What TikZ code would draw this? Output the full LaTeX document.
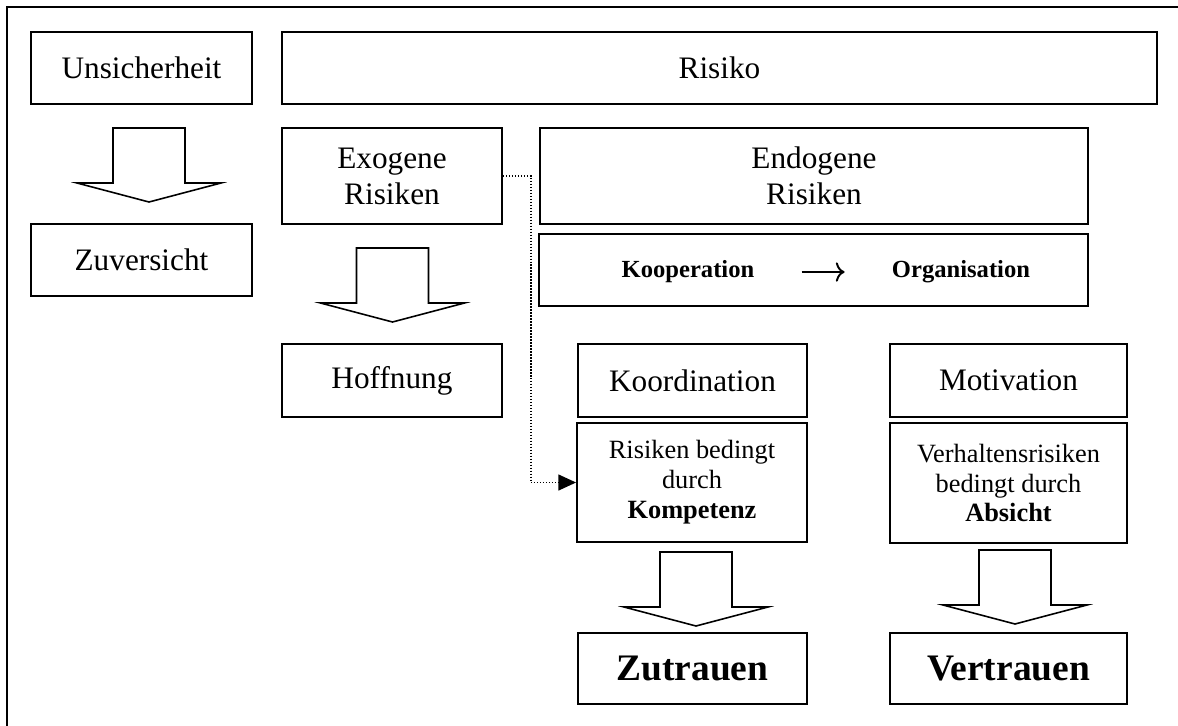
\documentclass[tikz,border=0pt]{standalone}
\usepackage{fontspec}
\setmainfont{Liberation Serif}
\usetikzlibrary{arrows.meta,positioning,calc}

\begin{document}
\begin{tikzpicture}[x=0.02cm, y=-0.02cm,
  box/.style={draw, rectangle, line width=1.1pt, align=center, inner sep=2pt, font=\fontsize{17.8}{20.5}\selectfont},
  smallbox/.style={box, font=\fontsize{15}{17}\selectfont},
  bigbox/.style={box, font=\fontsize{21.3}{24}\selectfont\bfseries},
  keyword/.style={inner sep=0pt, font=\fontsize{14}{16}\selectfont\bfseries},
  dotarr/.style={line width=0.85pt, dash pattern=on 0.85pt off 0.85pt, -{Triangle[length=10pt,width=9pt]}},
  arr/.style={line width=1.1pt, -{To[length=5pt,width=11pt]}, shorten <=0.94cm, shorten >=0.94cm},
  downarrow/.pic={\draw[line width=0.9pt, line join=miter] (-36,0) -- (-36,55) -- (-72,55) -- (0,74) -- (72,55) -- (36,55) -- (36,0) -- cycle;}
]
  \useasboundingbox (0,0) rectangle (1178,725);
  \draw[line width=1.1pt] (7,740) -- (7,7) -- (1190,7);

  \node[box, minimum width=4.42cm, minimum height=1.44cm] (unsicher) at (141.5,68) {Unsicherheit};
  \node[box, minimum width=17.5cm, minimum height=1.44cm] (risiko) at (719.5,68) {Risiko};
  \node[box, minimum width=4.42cm, minimum height=1.44cm] (zuversicht) at (141.5,260) {Zuversicht};

  \node[box, minimum width=4.4cm, minimum height=1.92cm] (exogen) at (392,176) {Exogene\\Risiken};
  \node[box, minimum width=10.96cm, minimum height=1.92cm] (endogen) at (814,176) {Endogene\\Risiken};
  \node[box, minimum width=10.98cm, minimum height=1.44cm] (koopbox) at (813.5,270) {};
  \node[keyword] (kooperation) at (688,272) {Kooperation};
  \node[keyword] (organisation) at (961,272) {Organisation};

  \node[box, minimum width=4.4cm, minimum height=1.46cm] (hoffnung) at (392,380.5) {Hoffnung};
  \node[box, minimum width=4.58cm, minimum height=1.46cm] (koordination) at (692.5,380.5) {Koordination};
  \node[box, minimum width=4.74cm, minimum height=1.46cm] (motivation) at (1008.5,380.5) {Motivation};
  \node[smallbox, minimum width=4.6cm, minimum height=2.38cm] (kompetenz) at (692,482.5) {Risiken bedingt\\durch\\\textbf{Kompetenz}};
  \node[smallbox, minimum width=4.74cm, minimum height=2.4cm] (absicht) at (1008.5,483) {Verhaltensrisiken\\bedingt durch\\\textbf{Absicht}};
  \node[bigbox, minimum width=4.58cm, minimum height=1.42cm] (zutrauen) at (692.5,668.5) {Zutrauen};
  \node[bigbox, minimum width=4.74cm, minimum height=1.42cm] (vertrauen) at (1008.5,668.5) {Vertrauen};

  \pic at (149,128) {downarrow};
  \pic at (392.5,248) {downarrow};
  \pic at (696,552) {downarrow};
  \pic at (1015,550) {downarrow};

  \draw[arr] (kooperation) -- (organisation);
  \draw[dotarr] (exogen.east) -- ++(28,0) |- (kompetenz.west);
\end{tikzpicture}
\end{document}
